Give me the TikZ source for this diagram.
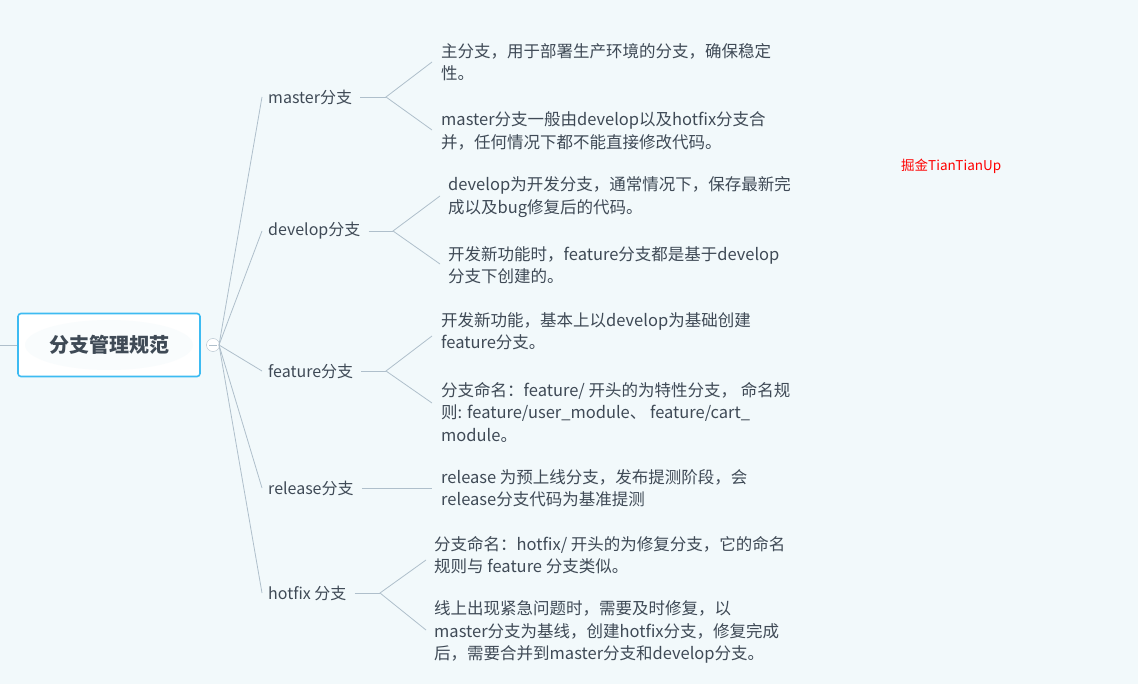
\documentclass[tikz,border=0pt]{standalone}
\usepackage{fontspec}
\setmainfont{Noto Sans CJK SC}
\begin{document}
\begin{tikzpicture}[x=1pt,y=-1pt,
  br/.style={draw=lineC,line width=0.8pt},
  lab/.style={anchor=west,inner sep=0pt,text=txtC,font=\fontsize{16}{22}\selectfont},
  leaf/.style={anchor=west,inner sep=0pt,text=txtC,align=left,font=\fontsize{16.5}{22.5}\selectfont}]
\definecolor{bgC}{HTML}{F2F9FB}
\definecolor{lineC}{HTML}{AFBFCB}
\definecolor{txtC}{HTML}{3F4A56}
\definecolor{rootB}{HTML}{3DBBF2}
\fill[bgC] (0,0) rectangle (1138,684);
\useasboundingbox (0,0) rectangle (1138,684);
% root
\draw[br] (0,345) -- (18,345);
\node[draw=rootB,line width=1.6pt,fill=white,rounded corners=3pt,minimum width=182pt,minimum height=63pt,inner sep=0pt] (root) at (109,345) {};
\fill[bgC!50!white] (109,345) ellipse (84pt and 25pt);
\node[text=txtC,font=\fontsize{20}{22}\selectfont\bfseries] at (root) {分支管理规范};
\node[circle,draw=lineC,fill=white,minimum size=13pt,inner sep=0pt] (c) at (213,345) {};
\draw[lineC,line width=0.8pt] (209,345) -- (217,345);
% branches
\foreach \n/\y/\t/\e in {m/97/master分支/386,d/231/develop分支/393,f/371/feature分支/386,r/488/release分支/370,h/593/hotfix 分支/380}{
  \node[lab] (\n) at (268,\y) {\t};
  \coordinate (\n e) at (\e,\y);
  \draw[br] (c) ++(6,0) -- (262,\y);
  \draw[br] (\n.east) ++(8,0) -- (\n e);
}
% forks
\coordinate (m1) at (432,62); \coordinate (m2) at (432,130);
\draw[br] (m1) -- (me) -- (m2);
\node[leaf] (mt1) at (441,62) {主分支，用于部署生产环境的分支，确保稳定\\性。};
\node[leaf] (mt2) at (441,131) {master分支一般由develop以及hotfix分支合\\并，任何情况下都不能直接修改代码。};
\coordinate (d1) at (440,196); \coordinate (d2) at (440,264);
\draw[br] (d1) -- (de) -- (d2);
\node[leaf] (dt1) at (448,197) {develop为开发分支，通常情况下，保存最新完\\成以及bug修复后的代码。};
\node[leaf] (dt2) at (448,265) {开发新功能时，feature分支都是基于develop\\分支下创建的。};
\coordinate (f1) at (432,336); \coordinate (f2) at (432,403);
\draw[br] (f1) -- (fe) -- (f2);
\node[leaf] (ft1) at (441,331) {开发新功能，基本上以develop为基础创建\\feature分支。};
\node[leaf] (ft2) at (441,412) {分支命名：feature/ 开头的为特性分支， 命名规\\则: feature/user\_module、 feature/cart\_\\module。};
\coordinate (r1) at (432,488);
\draw[br] (re) -- (r1);
\node[leaf] (rt) at (441,488) {release 为预上线分支，发布提测阶段，会\\release分支代码为基准提测};
\coordinate (h1) at (426,560); \coordinate (h2) at (426,630);
\draw[br] (h1) -- (he) -- (h2);
\node[leaf] (ht1) at (434,555) {分支命名：hotfix/ 开头的为修复分支，它的命名\\规则与 feature 分支类似。};
\node[leaf] (ht2) at (434,632) {线上出现紧急问题时，需要及时修复，以\\master分支为基线，创建hotfix分支，修复完成\\后，需要合并到master分支和develop分支。};
\node[anchor=west,inner sep=0pt,text=red,font=\fontsize{13.5}{15}\selectfont] (wm) at (901,166) {掘金TianTianUp};
\end{tikzpicture}
\end{document}
